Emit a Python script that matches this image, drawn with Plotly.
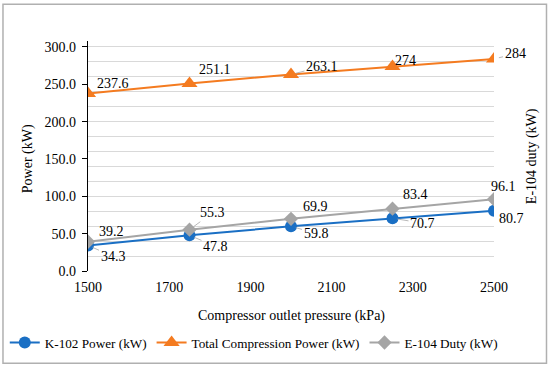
import plotly.graph_objects as go

# ---- data ----
pressure = [1500, 1750, 2000, 2250, 2500]
k102_power = [34.3, 47.8, 59.8, 70.7, 80.7]
total_power = [237.6, 251.1, 263.1, 274, 284]
e104_duty = [39.2, 55.3, 69.9, 83.4, 96.1]
x_ticks = [1500, 1700, 1900, 2100, 2300, 2500]
y_ticks = [0, 50, 100, 150, 200, 250, 300]

# ---- label placement (pixel offsets from point, leader line flag) ----
k102_offsets = [(25, 11, True), (26, 11, True), (25, 7, True), (30, 5, True), (17, 8, True)]
total_offsets = [(25, -10, False), (25, -14, False), (31, -8, True), (13, -6, False), (21, -5, True)]
e104_offsets = [(23, -10, False), (23, -17, True), (24, -12, False), (23, -14, False), (9, -13, True)]

FONT = "Liberation Serif"
BLUE = "#1A6FC4"
ORANGE = "#F47B20"
GRAY = "#A5A5A5"

fig = go.Figure()
fig.add_trace(go.Scatter(x=pressure, y=k102_power, name="K-102 Power (kW)",
                         mode="lines+markers", line=dict(color=BLUE, width=2),
                         marker=dict(symbol="circle", size=12, color=BLUE)))
fig.add_trace(go.Scatter(x=pressure, y=total_power, name="Total Compression Power (kW)",
                         mode="lines+markers", line=dict(color=ORANGE, width=2),
                         marker=dict(symbol="triangle-up", size=14, color=ORANGE)))
fig.add_trace(go.Scatter(x=pressure, y=e104_duty, name="E-104 Duty (kW)",
                         mode="lines+markers", line=dict(color=GRAY, width=2),
                         marker=dict(symbol="diamond", size=11, color=GRAY)))
# invisible trace on secondary axis so it is drawn
fig.add_trace(go.Scatter(x=pressure, y=e104_duty, yaxis="y2", mode="lines",
                         line=dict(width=0), showlegend=False, hoverinfo="skip"))

annotations = []
for values, offsets in [(k102_power, k102_offsets), (total_power, total_offsets), (e104_duty, e104_offsets)]:
    for xv, yv, (dx, dy, leader) in zip(pressure, values, offsets):
        txt = f"{yv:g}"
        if leader:
            annotations.append(dict(x=xv, y=yv, xref="x", yref="y", text=txt,
                                    showarrow=True, arrowhead=0, arrowwidth=0.8,
                                    arrowcolor="#A6A6A6", ax=dx, ay=dy, standoff=5,
                                    font=dict(family=FONT, size=14, color="black")))
        else:
            annotations.append(dict(x=xv, y=yv, xref="x", yref="y", text=txt,
                                    showarrow=False, xshift=dx, yshift=-dy,
                                    font=dict(family=FONT, size=14, color="black")))

# axis titles
annotations.append(dict(text="Power (kW)", x=-0.148, y=0.49, xref="paper", yref="paper",
                        textangle=-90, showarrow=False, xanchor="center", yanchor="middle",
                        font=dict(family=FONT, size=14, color="black")))
annotations.append(dict(text="E-104 duty (kW)", x=1.094, y=0.5, xref="paper", yref="paper",
                        textangle=-90, showarrow=False, xanchor="center", yanchor="middle",
                        font=dict(family=FONT, size=14, color="black")))
annotations.append(dict(text="Compressor outlet pressure (kPa)", x=0.5, y=-0.195,
                        xref="paper", yref="paper", showarrow=False,
                        xanchor="center", yanchor="middle",
                        font=dict(family=FONT, size=14, color="black")))

fig.update_layout(
    width=550, height=368,
    margin=dict(l=88, r=56, t=41, b=97, autoexpand=False),
    paper_bgcolor="white", plot_bgcolor="white",
    font=dict(family=FONT, size=14, color="black"),
    xaxis=dict(range=[1500, 2500], tickvals=x_ticks, showgrid=False, zeroline=False,
               showline=False, ticks="", ticklabelstandoff=6,
               tickfont=dict(family=FONT, size=14, color="black")),
    yaxis=dict(range=[0, 308], tickvals=y_ticks, tickformat=".1f", showgrid=False,
               zeroline=False, showline=True, linecolor="black", linewidth=1.3,
               ticks="outside", ticklen=5, tickcolor="black", tickwidth=1.3,
               ticklabelstandoff=3,
               tickfont=dict(family=FONT, size=14, color="black")),
    yaxis2=dict(range=[0, 308], overlaying="y", side="right", dtick=20, tick0=0,
                showgrid=True, gridcolor="#D9D9D9", gridwidth=1, showticklabels=False,
                zeroline=False, showline=False, ticks=""),
    showlegend=True,
    legend=dict(orientation="h", x=-0.205, y=-0.3126, xanchor="left", yanchor="middle",
                font=dict(family=FONT, size=13.2, color="black"), bgcolor="rgba(0,0,0,0)",
                traceorder="normal"),
    annotations=annotations,
    shapes=[dict(type="rect", xref="paper", yref="paper", x0=-0.2094, x1=1.1293,
                 y0=-0.4016, y1=1.1593, line=dict(color="#B0B0B0", width=1.5),
                 fillcolor="rgba(0,0,0,0)", layer="above")],
)

fig.write_html("out.html", config={"displayModeBar": False},
               post_script="document.body.style.margin='0px';document.body.style.overflow='hidden';")
